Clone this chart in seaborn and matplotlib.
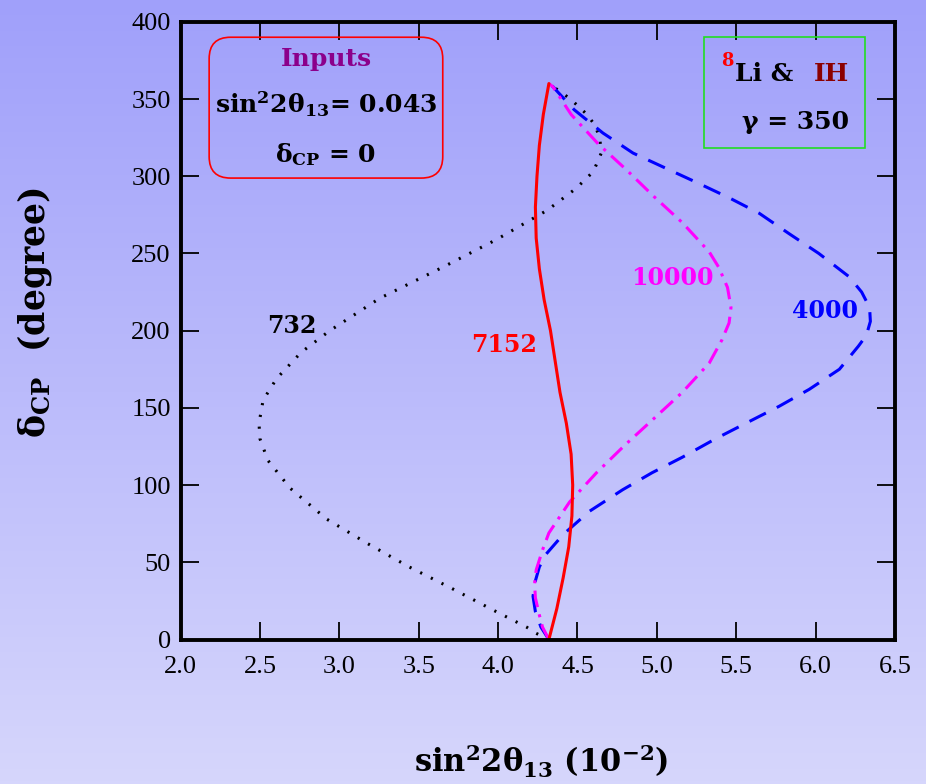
import numpy as np
import pandas as pd
import matplotlib
matplotlib.use('Agg')
import matplotlib.pyplot as plt
from matplotlib.patches import FancyBboxPatch, Rectangle
from matplotlib.colors import LinearSegmentedColormap
import seaborn as sns

sns.set_style('ticks')
plt.rcParams['font.family'] = ['Liberation Serif', 'DejaVu Serif']
plt.rcParams['mathtext.fontset'] = 'dejavuserif'

# curves: delta_CP (deg) vs sin^2 2theta13 (10^-2)
# baseline 732 km (black dotted)
y_732 = [0, 4, 8, 19, 33, 47, 62, 78, 98, 116, 130, 140, 155, 169, 186, 200,
         221, 241, 259, 278, 292, 303, 315, 325, 333, 340, 350, 360]
x_732 = [4.32, 4.24, 4.18, 3.97, 3.71, 3.44, 3.18, 2.92, 2.69, 2.55, 2.50, 2.494,
         2.52, 2.605, 2.76, 2.94, 3.255, 3.65, 3.99, 4.31, 4.49, 4.60, 4.65, 4.64,
         4.61, 4.56, 4.456, 4.32]
# baseline 7152 km (red solid)
y_7152 = [0, 20, 40, 60, 80, 100, 120, 140, 160, 180, 200, 220, 240, 260, 280,
          300, 320, 340, 360]
x_7152 = [4.32, 4.37, 4.41, 4.445, 4.465, 4.47, 4.46, 4.43, 4.39, 4.36, 4.33,
          4.29, 4.26, 4.24, 4.235, 4.245, 4.26, 4.285, 4.32]
# baseline 10000 km (magenta dash-dot)
y_10000 = [0, 8, 17, 27, 36, 45, 58, 69, 89, 108, 126, 142, 160, 179, 194, 205,
           215, 228, 241, 251, 270, 287, 304, 321, 340, 358, 360]
x_10000 = [4.32, 4.28, 4.257, 4.235, 4.23, 4.24, 4.28, 4.32, 4.45, 4.62, 4.80,
           4.97, 5.16, 5.33, 5.41, 5.455, 5.467, 5.445, 5.39, 5.33, 5.16, 4.98,
           4.81, 4.63, 4.46, 4.345, 4.32]
# baseline 4000 km (blue dashed)
y_4000 = [0, 8, 18, 28, 38, 47, 55, 68, 83, 97, 108, 118, 130, 140, 151, 162,
          175, 190, 197, 206, 215, 225, 235, 250, 263, 276, 286, 296, 305, 315,
          328, 343, 358, 360]
x_4000 = [4.32, 4.27, 4.235, 4.22, 4.235, 4.26, 4.30, 4.41, 4.575, 4.785, 4.97,
          5.16, 5.37, 5.56, 5.77, 5.96, 6.15, 6.27, 6.32, 6.345, 6.34, 6.29, 6.21,
          6.02, 5.83, 5.645, 5.456, 5.25, 5.06, 4.85, 4.66, 4.48, 4.345, 4.32]

xticks = [2.0, 2.5, 3.0, 3.5, 4.0, 4.5, 5.0, 5.5, 6.0, 6.5]
yticks = [0, 50, 100, 150, 200, 250, 300, 350, 400]

fig = plt.figure(figsize=(9.26, 7.84), dpi=100)

# gradient background behind everything
bg = fig.add_axes([0, 0, 1, 1], zorder=-10)
cmap = LinearSegmentedColormap.from_list('bg', ['#a0a0fa', '#d6d6fc'])
bg.imshow(np.linspace(0, 1, 256).reshape(-1, 1), aspect='auto', cmap=cmap,
          extent=[0, 1, 0, 1])
bg.axis('off')

ax = fig.add_axes([0.195, 0.1843, 0.7715, 0.7879])
ax.patch.set_alpha(0)

sns.lineplot(x=x_732, y=y_732, orient='y', estimator=None, color='black',
             lw=2.2, linestyle=(0, (0.7, 3.2)), ax=ax)
sns.lineplot(x=x_4000, y=y_4000, orient='y', estimator=None, color='#0000ff',
             lw=2.2, linestyle=(0, (6, 4)), ax=ax)
sns.lineplot(x=x_10000, y=y_10000, orient='y', estimator=None, color='#ff00ff',
             lw=2.2, linestyle=(0, (5.5, 2.4, 1, 2.4)), ax=ax)
sns.lineplot(x=x_7152, y=y_7152, orient='y', estimator=None, color='#ff0000',
             lw=2.2, ax=ax)

ax.set_xlim(2.0, 6.5)
ax.set_ylim(0, 400)
ax.set_xticks(xticks)
ax.set_xticklabels(['%.1f' % t for t in xticks])
ax.set_yticks(yticks)
ax.tick_params(direction='in', length=13, width=1.3, top=True, right=True,
               labelsize=19, colors='black')
ax.tick_params(axis='x', pad=12)
ax.tick_params(axis='y', pad=7)
for s in ax.spines.values():
    s.set_linewidth(2.8)
    s.set_color('black')

bold = dict(family='DejaVu Serif', fontweight='bold')
ax.set_xlabel(r'sin$^{\mathbf{2}}$2θ$_{\mathbf{13}}$ (10$^{\mathbf{-2}}$)',
              fontsize=22, color='black', va='center', ha='center', **bold)
ax.set_ylabel(r'δ$_{\mathbf{CP}}$  (degree)', fontsize=25, color='black',
              va='center', ha='center', **bold)
ax.xaxis.set_label_coords(0.505, -0.198)
ax.yaxis.set_label_coords(-0.204, 0.53)

# curve labels
ax.text(2.70, 203, '732', color='black', fontsize=17, ha='center', va='center', **bold)
ax.text(4.04, 191, '7152', color='#ff0000', fontsize=17, ha='center', va='center', **bold)
ax.text(5.10, 234, '10000', color='#ff00ff', fontsize=17, ha='center', va='center', **bold)
ax.text(6.06, 213, '4000', color='#0000ff', fontsize=17, ha='center', va='center', **bold)

# inputs box
box = FancyBboxPatch((0.040, 0.747), 0.327, 0.228, transform=ax.transAxes,
                     boxstyle='round,pad=0,rounding_size=0.03',
                     mutation_aspect=1.157, fc='none', ec='#ff0000', lw=1.2)
ax.add_patch(box)
ax.text(0.2035, 0.940, 'Inputs', transform=ax.transAxes, color='#8b008b',
        fontsize=18, ha='center', va='center', **bold)
ax.text(0.2035, 0.866, r'sin$^{\mathbf{2}}$2θ$_{\mathbf{13}}$= 0.043',
        transform=ax.transAxes, color='black', fontsize=18, ha='center',
        va='center', **bold)
ax.text(0.2035, 0.785, r'δ$_{\mathbf{CP}}$ = 0', transform=ax.transAxes,
        color='black', fontsize=18, ha='center', va='center', **bold)

# source / hierarchy box
ax.add_patch(Rectangle((0.733, 0.796), 0.225, 0.179, transform=ax.transAxes,
                       fc='none', ec='#22dd22', lw=1.2))
ax.text(0.766, 0.937, '8', transform=ax.transAxes, color='#ff0000',
        fontsize=13, ha='center', va='center', **bold)
ax.text(0.776, 0.915, 'Li &', transform=ax.transAxes, color='black',
        fontsize=18, ha='left', va='center', **bold)
ax.text(0.886, 0.915, 'IH', transform=ax.transAxes, color='#8b0000',
        fontsize=18, ha='left', va='center', **bold)
ax.text(0.861, 0.837, 'γ = 350', transform=ax.transAxes, color='black',
        fontsize=18, ha='center', va='center', **bold)

plt.savefig('out.png', dpi=100)
